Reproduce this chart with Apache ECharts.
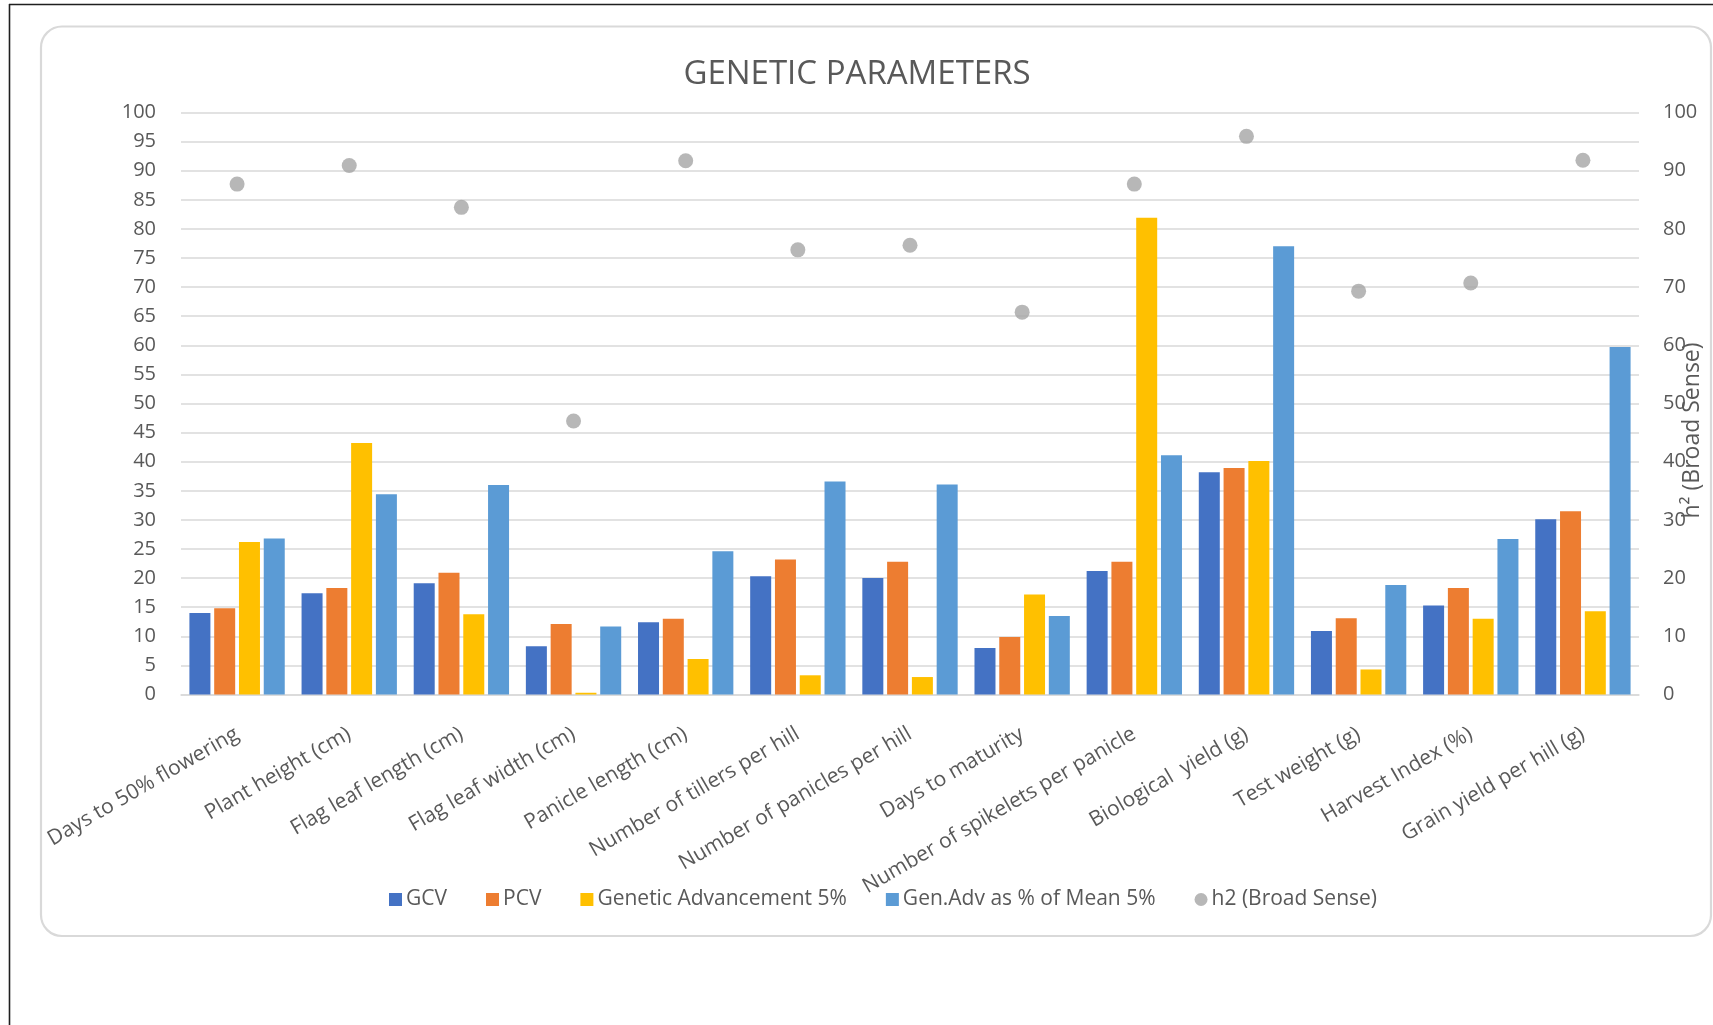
<!DOCTYPE html>
<html>
<head>
<meta charset="utf-8">
<script src="https://cdn.jsdelivr.net/npm/echarts@6/dist/echarts.min.js"></script>
<style>
html,body{margin:0;padding:0;background:#fff;}
#chart{width:1713px;height:1025px;}
</style>
</head>
<body>
<div id="chart"></div>
<script>
const categories = [
  "Days to 50% flowering", "Plant height (cm)", "Flag leaf length (cm)", "Flag leaf width (cm)",
  "Panicle length (cm)", "Number of tillers per hill", "Number of panicles per hill", "Days to maturity",
  "Number of spikelets per panicle", "Biological  yield (g)", "Test weight (g)", "Harvest Index (%)",
  "Grain yield per hill (g)"
];
const gcv = [14.0, 17.4, 19.1, 8.3, 12.4, 20.3, 20.0, 8.0, 21.2, 38.2, 10.9, 15.3, 30.1];
const pcv = [14.8, 18.3, 20.9, 12.1, 13.0, 23.2, 22.8, 9.9, 22.8, 38.9, 13.1, 18.3, 31.5];
const geneticAdv = [26.2, 43.2, 13.8, 0.3, 6.1, 3.3, 3.0, 17.2, 81.9, 40.1, 4.3, 13.0, 14.3];
const genAdvMean = [26.8, 34.4, 36.0, 11.7, 24.6, 36.6, 36.1, 13.5, 41.1, 77.0, 18.8, 26.7, 59.7];
const h2 = [87.7, 90.9, 83.7, 47.0, 91.7, 76.4, 77.2, 65.7, 87.7, 95.9, 69.3, 70.7, 91.8];
const leftTicks = {min: 0, max: 100, interval: 5};
const rightTicks = {min: 0, max: 100, interval: 10};

const FONT = "'Open Sans', sans-serif";
const TXT = '#595959';
const GRID = '#d9d9d9';

const chart = echarts.init(document.getElementById('chart'), null, {renderer: 'canvas'});

const barCommon = {type: 'bar', barWidth: 21, barGap: '18%'};

chart.setOption({
  animation: false,
  backgroundColor: '#ffffff',
  title: {
    text: 'GENETIC PARAMETERS',
    left: 852, top: 53, textAlign: 'center',
    textStyle: {fontFamily: FONT, fontSize: 33, fontWeight: 'normal', color: TXT}
  },
  graphic: [
    {type: 'line', shape: {x1: 9, y1: 4.5, x2: 1713, y2: 4.5}, style: {stroke: '#1f1f1f', lineWidth: 1.6}, silent: true},
    {type: 'line', shape: {x1: 9.5, y1: 4, x2: 9.5, y2: 1025}, style: {stroke: '#1f1f1f', lineWidth: 1.6}, silent: true},
    {type: 'rect', shape: {x: 41, y: 26.5, width: 1670, height: 909.5, r: 21}, style: {fill: null, stroke: '#d9d9d9', lineWidth: 2.2}, silent: true, z: -1}
  ],
  legend: {
    left: 384, top: 884,
    itemWidth: 13, itemHeight: 13, itemGap: 39,
    textStyle: {fontFamily: FONT, fontSize: 21, color: TXT, padding: [0, 0, 0, -1]},
    data: [
      {name: 'GCV', icon: 'rect'},
      {name: 'PCV', icon: 'rect'},
      {name: 'Genetic Advancement 5%', icon: 'rect'},
      {name: 'Gen.Adv as % of Mean 5%', icon: 'rect'},
      {name: 'h2 (Broad Sense)', icon: 'circle'}
    ]
  },
  grid: {left: 181, right: 74, top: 112.5, bottom: 330.5, containLabel: false, outerBoundsMode: 'none'},
  xAxis: {
    type: 'category',
    data: categories,
    axisLine: {lineStyle: {color: GRID, width: 1.5}},
    axisTick: {show: false},
    axisLabel: {interval: 0, rotate: 30, margin: 38, fontFamily: FONT, fontSize: 21, color: TXT}
  },
  yAxis: [
    {
      type: 'value', min: leftTicks.min, max: leftTicks.max, interval: leftTicks.interval,
      axisLine: {show: false}, axisTick: {show: false},
      splitLine: {lineStyle: {color: GRID, width: 1.5}},
      axisLabel: {margin: 25, fontFamily: FONT, fontSize: 20, color: TXT}
    },
    {
      type: 'value', min: rightTicks.min, max: rightTicks.max, interval: rightTicks.interval,
      position: 'right',
      axisLine: {show: false}, axisTick: {show: false}, splitLine: {show: false},
      axisLabel: {margin: 24, fontFamily: FONT, fontSize: 20, color: TXT},
      name: 'h\u00B2 (Broad Sense)', nameLocation: 'middle', nameGap: 42, nameMoveOverlap: false,
      nameTextStyle: {fontFamily: FONT, fontSize: 23, color: TXT, padding: [0, 54, 0, 0]}
    }
  ],
  series: [
    Object.assign({name: 'GCV', data: gcv, itemStyle: {color: '#4472c4'}}, barCommon),
    Object.assign({name: 'PCV', data: pcv, itemStyle: {color: '#ed7d31'}}, barCommon),
    Object.assign({name: 'Genetic Advancement 5%', data: geneticAdv, itemStyle: {color: '#ffc000'}}, barCommon),
    Object.assign({name: 'Gen.Adv as % of Mean 5%', data: genAdvMean, itemStyle: {color: '#5b9bd5'}}, barCommon),
    {
      name: 'h2 (Broad Sense)', type: 'scatter', yAxisIndex: 1, data: h2,
      symbol: 'circle', symbolSize: 15, itemStyle: {color: '#a5a5a5'}
    }
  ]
});
</script>
</body>
</html>
